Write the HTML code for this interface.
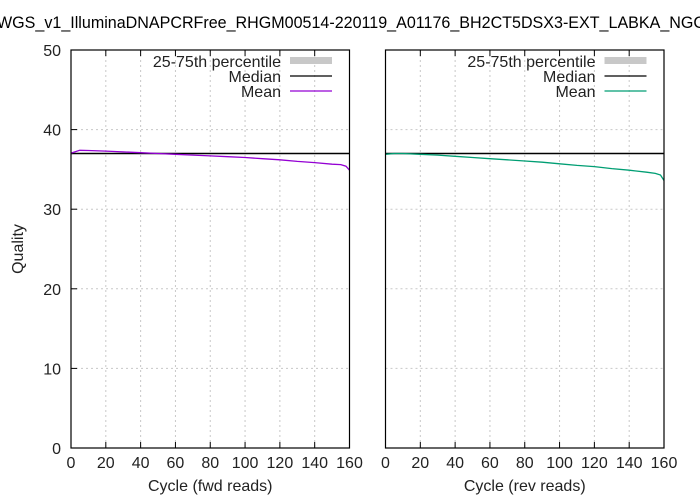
<!DOCTYPE html>
<html><head><meta charset="utf-8"><style>body{margin:0;background:#fff}svg{display:block;font-family:"Liberation Sans",sans-serif}</style></head>
<body>
<svg id="chart" width="700" height="500" viewBox="0 0 700 500">
<text x="-3" y="28" font-size="17" textLength="708" lengthAdjust="spacingAndGlyphs">WGS_v1_IlluminaDNAPCRFree_RHGM00514-220119_A01176_BH2CT5DSX3-EXT_LABKA_NGC</text>
<g id="plots"></g>
</svg>
<script>
const cycles=[0,5,10,20,30,40,50,60,70,80,90,100,110,120,130,140,150,155,158,160];
const fwdMean=[37.05,37.4,37.37,37.3,37.2,37.1,37.0,36.9,36.8,36.7,36.6,36.5,36.35,36.2,36.0,35.85,35.65,35.6,35.4,34.9];
const revCycles=[0,5,10,20,30,40,50,60,70,80,90,100,110,120,130,140,150,155,158,160];
const revMean=[36.9,37.0,37.0,36.9,36.8,36.65,36.5,36.35,36.2,36.05,35.9,35.7,35.5,35.35,35.1,34.9,34.65,34.5,34.3,33.6];
const medianVal=37;
const xTicks=[0,20,40,60,80,100,120,140,160];
const yTicks=[0,10,20,30,40,50];
const NS='http://www.w3.org/2000/svg';
const g=document.getElementById('plots');
function mk(t,a,p){const e=document.createElementNS(NS,t);for(const k in a)e.setAttribute(k,a[k]);(p||g).appendChild(e);return e;}
const pTop=50,pBot=448;
function yS(v){return pBot-(v/50)*(pBot-pTop);}
function panel(x0,x1,xs,ys,color,label,showY,pname){
  const xS=v=>x0+(v/160)*(x1-x0);
  const pg=mk('g',{});
  
  
  xTicks.forEach(t=>{if(t>0&&t<160){const l=mk('line',{x1:xS(t),x2:xS(t),y1:pTop,y2:pBot,stroke:'#c8c8c8','stroke-dasharray':'2,3','stroke-width':1},pg);}
    mk('line',{x1:xS(t),x2:xS(t),y1:pBot,y2:pBot-6,stroke:'#000'},pg);mk('line',{x1:xS(t),x2:xS(t),y1:pTop,y2:pTop+6,stroke:'#000'},pg);
    const tx=mk('text',{x:xS(t),y:pBot+20,'font-size':16,'text-anchor':'middle',fill:'#222'},pg);tx.textContent=t;});
  yTicks.forEach(t=>{if(t>0&&t<50){const l=mk('line',{x1:x0,x2:x1,y1:yS(t),y2:yS(t),stroke:'#c8c8c8','stroke-dasharray':'2,3'},pg);}
    if(showY){mk('line',{x1:x0,x2:x0+6,y1:yS(t),y2:yS(t),stroke:'#000'},pg);const tx=mk('text',{x:x0-10,y:yS(t)+6,'font-size':16,'text-anchor':'end',fill:'#222'},pg);tx.textContent=t;}});
  const med=mk('line',{x1:x0,x2:x1,y1:yS(medianVal),y2:yS(medianVal),stroke:'#000','stroke-width':1.5},pg);
  
  const pts=xs.map((c,i)=>xS(c).toFixed(1)+','+yS(ys[i]).toFixed(1)).join(' ');
  const ml=mk('polyline',{points:pts,fill:'none',stroke:color,'stroke-width':1.3},pg);
  
  const box=mk('rect',{x:x0,y:pTop,width:x1-x0,height:pBot-pTop,fill:'none',stroke:'#000','stroke-width':1.2},pg);
  
  const xl=mk('text',{x:(x0+x1)/2,y:491,'font-size':16,'text-anchor':'middle',fill:'#222'},pg);xl.textContent=label;
  
  const lg=mk('g',{},pg);
  const lx=x0+210,sx=x0+219,ex=x0+261;
  [['25-75th percentile',67],['Median',82],['Mean',97]].forEach(([s,y],i)=>{const t=mk('text',{x:lx,y:y,'font-size':16,'text-anchor':'end',fill:'#222'},lg);t.textContent=s;
    if(i==0)mk('rect',{x:sx,y:y-10,width:ex-sx,height:7,fill:'#c8c8c8'},lg);
    else mk('line',{x1:sx,x2:ex,y1:y-6,y2:y-6,stroke:i==1?'#000':color,'stroke-width':1.2},lg);});
}
panel(71,349.5,cycles,fwdMean,'#9400d3','Cycle (fwd reads)',true,'fwd-panel');
panel(385.5,664,revCycles,revMean,'#009e73','Cycle (rev reads)',false,'rev-panel');
const yl=mk('text',{x:23,y:249,'font-size':16,'text-anchor':'middle',fill:'#222',transform:'rotate(-90 23 249)'});
yl.textContent='Quality';


</script>
</body></html>
